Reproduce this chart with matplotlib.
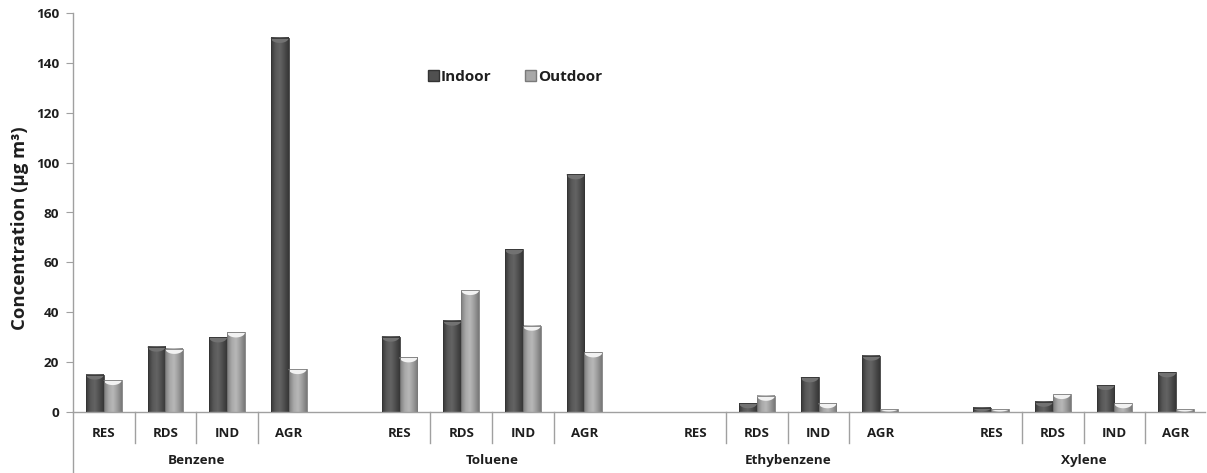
import numpy as np
import matplotlib
matplotlib.use("Agg")
import matplotlib.pyplot as plt
from matplotlib.patches import Polygon, Patch, Rectangle
from matplotlib.colors import LinearSegmentedColormap

# ---------------- data ----------------
compounds = ["Benzene", "Toluene", "Ethybenzene", "Xylene"]
sites = ["RES", "RDS", "IND", "AGR"]
indoor = [
    [15.0, 26.2, 29.9, 150.0],   # Benzene
    [30.2, 36.6, 65.2, 95.3],    # Toluene
    [0.0, 3.5, 13.9, 22.6],      # Ethybenzene
    [1.7, 4.1, 10.8, 15.9],      # Xylene
]
outdoor = [
    [12.8, 25.3, 31.9, 17.2],
    [21.9, 48.9, 34.6, 23.9],
    [0.0, 6.5, 3.5, 1.2],
    [1.2, 7.2, 3.5, 1.2],
]
yticks = [0, 20, 40, 60, 80, 100, 120, 140, 160]
series_names = ["Indoor", "Outdoor"]

# ---------------- layout ----------------
W, H = 1207, 473
fig = plt.figure(figsize=(W / 100, H / 100), dpi=100)
ax_left, ax_right = 73 / W, 1205 / W
ax_bottom, ax_top = 1 - 412 / H, 1 - 13 / H
ax = fig.add_axes([ax_left, ax_bottom, ax_right - ax_left, ax_top - ax_bottom])

FONT = "Open Sans"
TXT = "#1e1e1e"
AXC = "#a0a0a0"
group_stride = 4.8
bar_w = 0.29

positions = []
for g in range(len(compounds)):
    for j in range(len(sites)):
        positions.append(g * group_stride + j)
positions = np.array(positions)
ind_vals = np.array(indoor).ravel()
out_vals = np.array(outdoor).ravel()

cmap_in = LinearSegmentedColormap.from_list(
    "cin", ["#383838", "#585858", "#646464", "#4e4e4e", "#363636"])
cmap_out = LinearSegmentedColormap.from_list(
    "cout", ["#7c7c7c", "#a8a8a8", "#b8b8b8", "#9c9c9c", "#787878"])
grad = np.linspace(0, 1, 64).reshape(1, -1)

px_per_unit = (412 - 13) / 160.0
cap_h = 5 / px_per_unit


def draw_bars(xs, vals, cmap, cap_color, edge):
    bars = ax.bar(xs, vals, width=bar_w, color="none", edgecolor="none", zorder=2)
    for b, v in zip(bars, vals):
        if v <= 0:
            continue
        x0, w = b.get_x(), b.get_width()
        ax.imshow(grad, cmap=cmap, extent=(x0, x0 + w, 0, v),
                  aspect="auto", zorder=2, interpolation="bicubic")
        ch = min(cap_h, v * 0.8)
        t = np.linspace(0, np.pi, 30)
        cx = x0 + w / 2 - (w / 2) * np.cos(t)
        cy = v - ch * np.sin(t)
        pts = np.column_stack([np.r_[x0, cx, x0 + w], np.r_[v, cy, v]])
        ax.add_patch(Polygon(pts, closed=True, facecolor=cap_color,
                             edgecolor="none", zorder=3))
        ax.add_patch(Rectangle((x0, 0), w, v, facecolor="none",
                               edgecolor=edge, linewidth=0.6, zorder=4))
    return bars


draw_bars(positions - bar_w / 2, ind_vals, cmap_in, "#727272", "#333333")
draw_bars(positions + bar_w / 2, out_vals, cmap_out, "#f2f2f2", "#7a7a7a")
ax.set_xlim(-0.5, 3 * group_stride + 3 + 0.47)
ax.set_ylim(0, 160)

# axes styling
for s in ["top", "right"]:
    ax.spines[s].set_visible(False)
for s in ["left", "bottom"]:
    ax.spines[s].set_color(AXC)
    ax.spines[s].set_linewidth(1.0)
ax.set_yticks(yticks)
ax.set_yticklabels([str(t) for t in yticks], fontfamily=FONT, fontweight="bold",
                   fontsize=9.7, color=TXT)
ax.tick_params(axis="y", direction="out", length=5, color=AXC, pad=5)
ax.set_xticks([])

fig.text(20 / W, 1 - 228 / H, "Concentration (µg m³)", rotation=90,
         ha="center", va="center", fontfamily=FONT, fontweight="bold",
         fontsize=13.3, color=TXT)

# extended axis + category separators and labels below plot
ax_h_px = 412 - 13


def ypx(px_below):
    return -px_below / ax_h_px


trans = ax.get_xaxis_transform()
ax.plot([-0.5, -0.5], [0, ypx(60)], transform=trans, color=AXC,
        lw=1.0, clip_on=False)
for g, comp in enumerate(compounds):
    base = g * group_stride
    for j, site in enumerate(sites):
        ax.text(base + j, ypx(21), site, transform=trans, ha="center", va="center",
                fontfamily=FONT, fontweight="bold", fontsize=9.5, color=TXT)
        if j > 0:
            ax.plot([base + j - 0.5] * 2, [0, ypx(31)], transform=trans,
                    color=AXC, lw=1.0, clip_on=False)
    ax.text(base + 1.5, ypx(48), comp, transform=trans, ha="center", va="center",
            fontfamily=FONT, fontweight="bold", fontsize=9.7, color=TXT)

# legend
handles = [Patch(facecolor="#505050", edgecolor="#333333"),
           Patch(facecolor="#a8a8a8", edgecolor="#7a7a7a")]
leg = ax.legend(handles, series_names, loc="upper left", ncol=2, frameon=False,
                bbox_to_anchor=((428 - 73) / (1205 - 73), 1 - (70 - 13) / ax_h_px),
                handlelength=0.7, handleheight=0.7, handletextpad=0.15,
                columnspacing=2.2, borderaxespad=0, borderpad=0,
                prop={"family": FONT, "weight": "bold", "size": 11})
for t in leg.get_texts():
    t.set_color(TXT)

fig.savefig("out.png", dpi=100)
